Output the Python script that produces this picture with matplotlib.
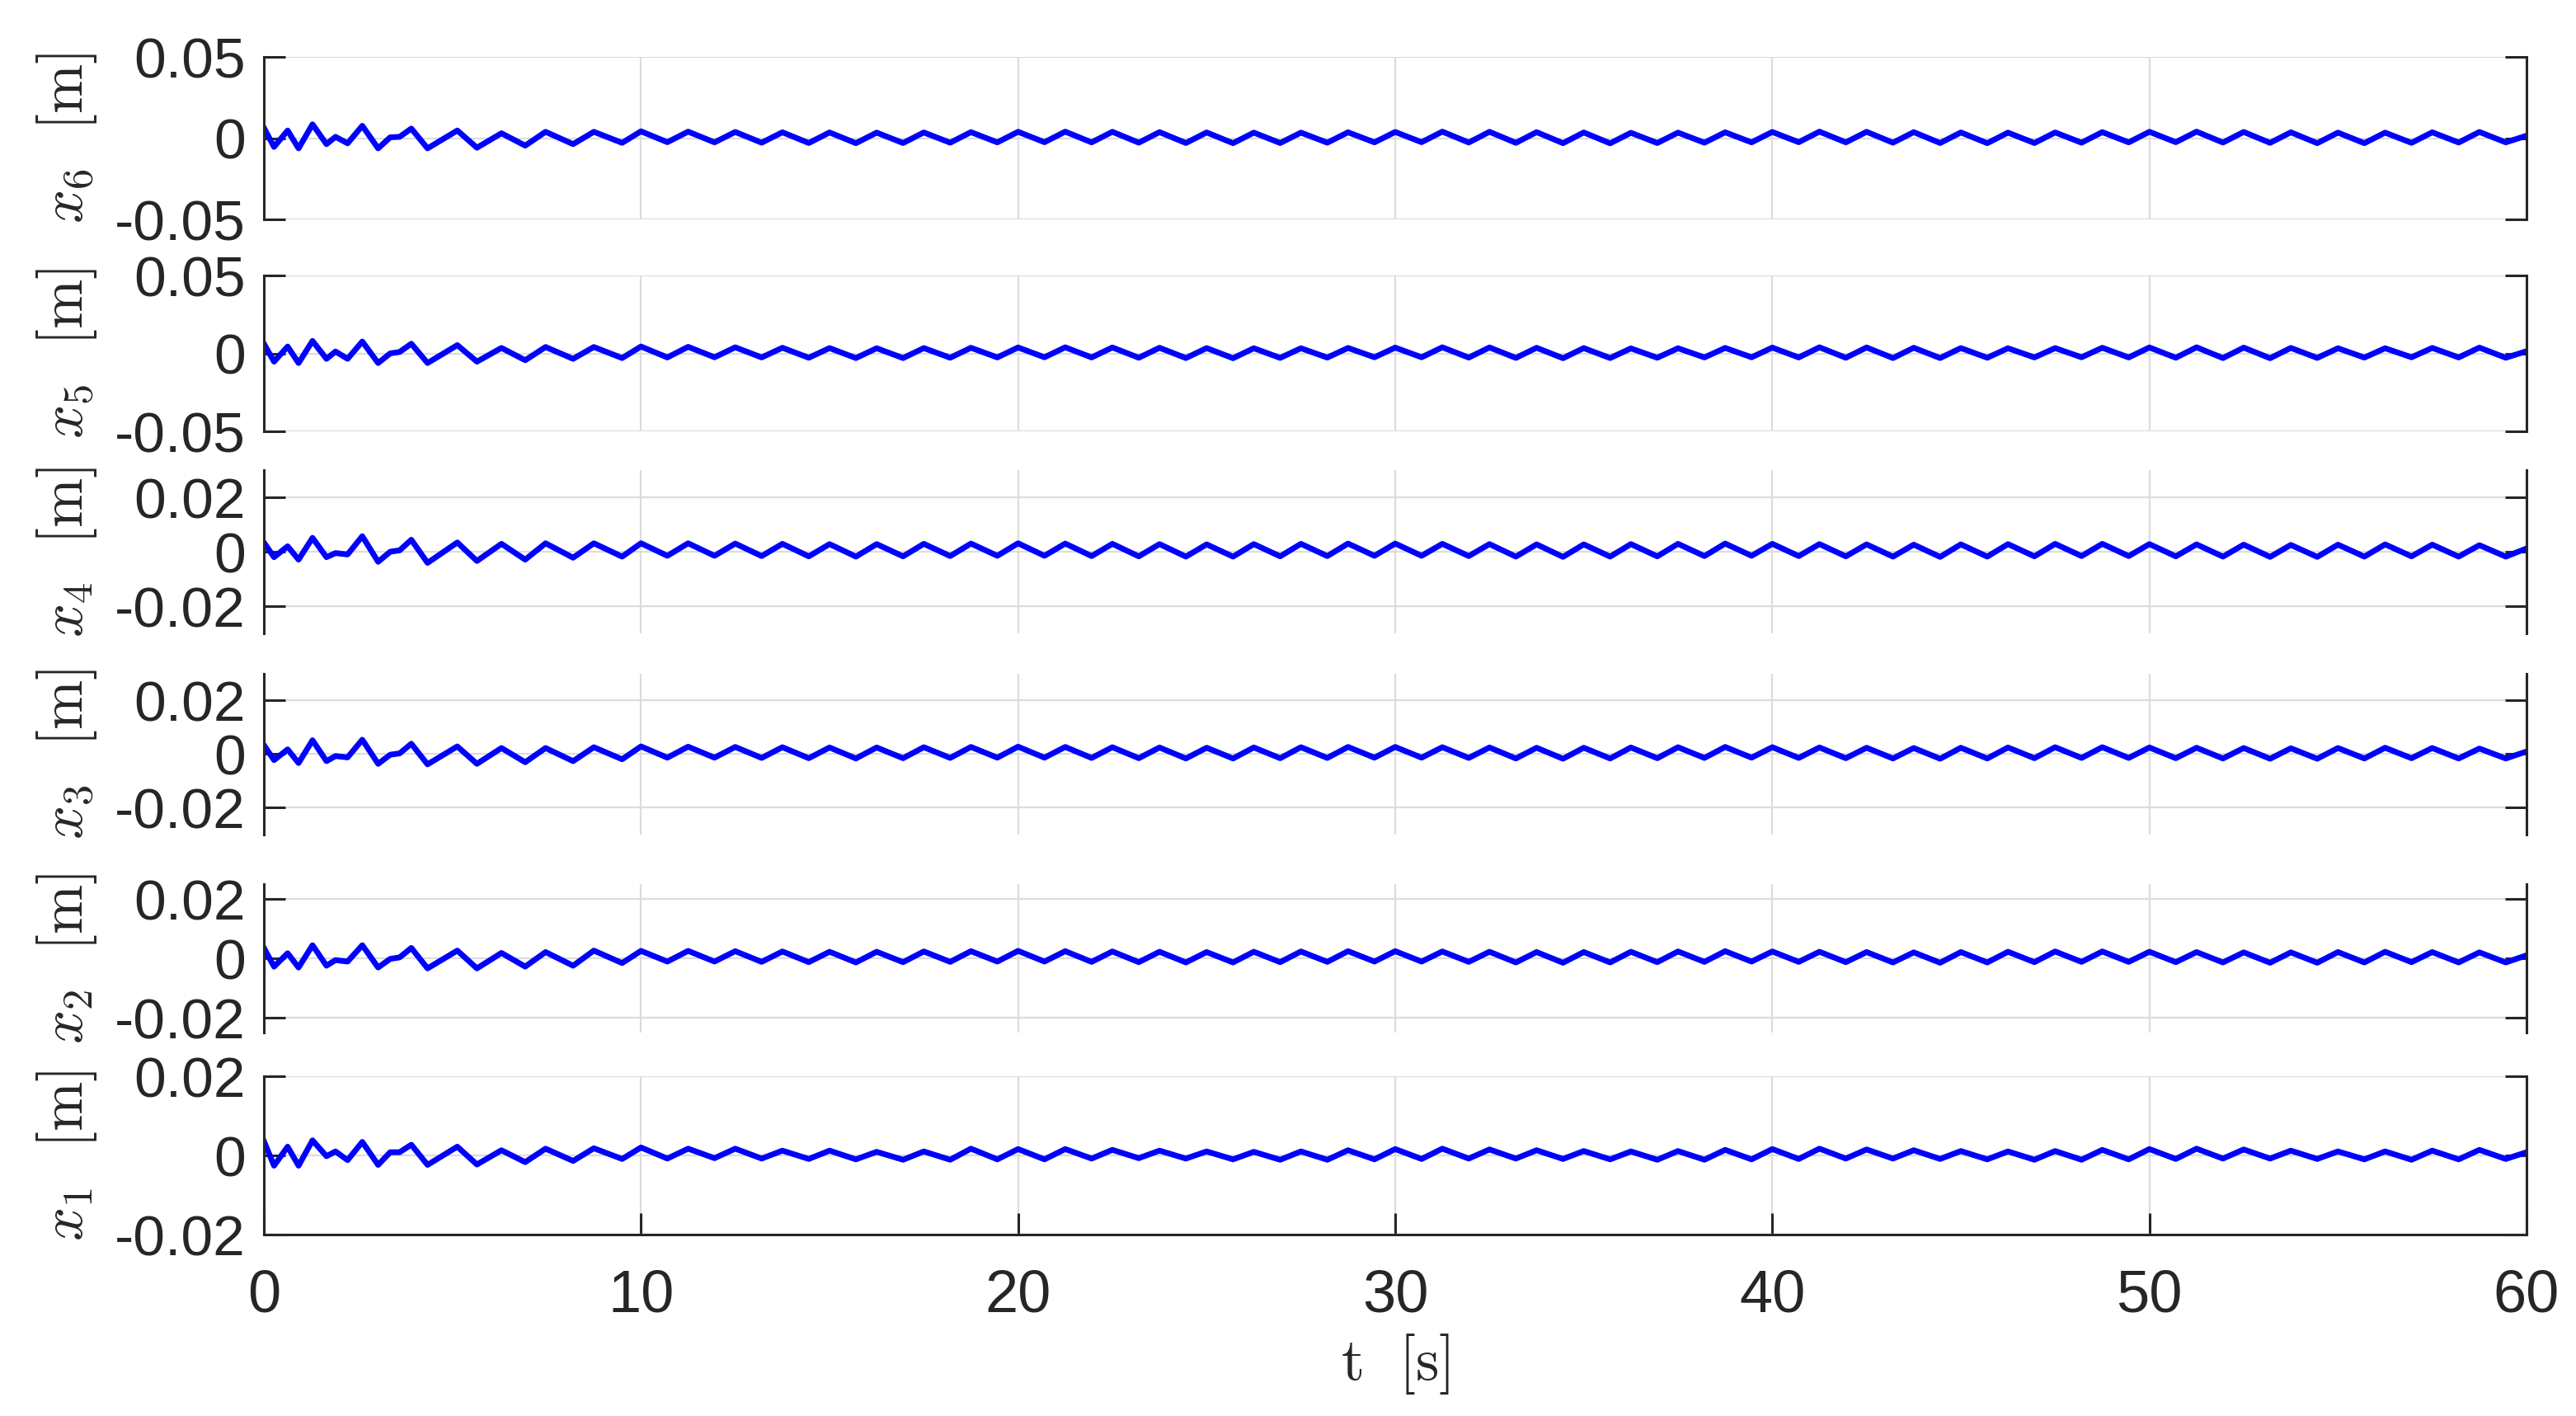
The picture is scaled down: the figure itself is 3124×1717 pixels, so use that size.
import numpy as np
import matplotlib
matplotlib.use('Agg')
import matplotlib.pyplot as plt
from matplotlib.ticker import FixedLocator, FixedFormatter

plt.rcParams['font.family'] = ['Liberation Sans', 'DejaVu Sans']
plt.rcParams['mathtext.fontset'] = 'cm'

# time of the extrema [s]
t_trans = [0, 0.27, 0.63, 0.92, 1.29, 1.66, 1.9, 2.22, 2.61, 3.03, 3.35, 3.6,
           3.91, 4.34, 5.13, 5.65, 6.3, 6.93, 7.47, 8.2, 8.75, 9.5]
t_peak = [10.0, 11.25, 12.5, 13.75, 15.0, 16.25, 17.5, 18.75, 20.0, 21.25,
          22.5, 23.75, 25.0, 26.25, 27.5, 28.75, 30.0, 31.25, 32.5, 33.75,
          35.0, 36.25, 37.5, 38.75, 40.0, 41.25, 42.5, 43.75, 45.0, 46.25,
          47.5, 48.75, 50.0, 51.25, 52.5, 53.75, 55.0, 56.25, 57.5, 58.75, 60.0]
t_trough = [10.7, 11.95, 13.2, 14.45, 15.7, 16.95, 18.2, 19.45, 20.7, 21.95,
            23.2, 24.45, 25.7, 26.95, 28.2, 29.45, 30.7, 31.95, 33.2, 34.45,
            35.7, 36.95, 38.2, 39.45, 40.7, 41.95, 43.2, 44.45, 45.7, 46.95,
            48.2, 49.45, 50.7, 51.95, 53.2, 54.45, 55.7, 56.95, 58.2, 59.45]

# values in mm
x6_trans = [6.4, -5.4, 4.7, -6.3, 8.5, -3.7, 0.8, -3.2, 7.6, -6.3, 0.5, 0.8,
            5.9, -6.3, 4.7, -5.9, 3.0, -4.6, 3.9, -3.7, 3.9, -2.9]
x6_peak = [4.2, 4.0, 3.8, 3.6, 3.5, 3.4, 3.5, 3.7, 3.9, 4.0, 3.9, 3.7, 3.5, 3.4,
           3.4, 3.6, 3.8, 4.0, 3.9, 3.7, 3.5, 3.3, 3.4, 3.6, 3.8, 4.0, 3.9, 3.7,
           3.5, 3.4, 3.5, 3.7, 3.9, 4.0, 3.8, 3.6, 3.4, 3.4, 3.6, 3.8, 1.5]
x6_trough = [-2.5, -2.6, -2.8, -3.0, -3.1, -3.0, -2.8, -2.6, -2.5, -2.6, -2.8,
             -3.0, -3.1, -3.0, -2.8, -2.6, -2.5, -2.7, -2.9, -3.1, -3.2, -3.0,
             -2.8, -2.6, -2.5, -2.6, -2.8, -3.0, -3.1, -3.0, -2.8, -2.6, -2.5,
             -2.7, -2.9, -3.1, -3.1, -2.9, -2.7, -2.6]

x5_trans = [6.2, -5.3, 4.4, -6.2, 8.0, -3.5, 1.2, -3.5, 7.6, -6.2, 0.0, 0.9,
            6.2, -6.2, 5.3, -5.3, 3.5, -4.4, 4.1, -3.5, 4.1, -3.0]
x5_peak = [4.4, 4.2, 3.9, 3.6, 3.4, 3.3, 3.4, 3.6, 3.8, 3.9, 3.8, 3.6, 3.4, 3.3,
           3.3, 3.5, 3.7, 3.9, 3.8, 3.6, 3.4, 3.2, 3.3, 3.5, 3.7, 3.9, 3.8, 3.6,
           3.4, 3.3, 3.4, 3.6, 3.8, 3.9, 3.7, 3.5, 3.3, 3.3, 3.5, 3.7, 1.4]
x5_trough = [-2.6, -2.5, -2.6, -2.8, -3.0, -3.0, -2.8, -2.6, -2.5, -2.6, -2.8,
             -3.0, -3.1, -2.9, -2.7, -2.5, -2.5, -2.7, -2.9, -3.1, -3.0, -2.8,
             -2.6, -2.5, -2.6, -2.8, -3.0, -3.0, -2.8, -2.6, -2.5, -2.6, -2.8,
             -3.0, -3.1, -2.9, -2.7, -2.5, -2.6, -2.8]

x4_trans = [3.4, -2.0, 2.0, -2.9, 5.1, -2.0, -0.5, -1.0, 5.7, -3.7, 0.0, 0.5,
            4.4, -4.1, 3.4, -3.4, 2.9, -2.9, 3.1, -2.2, 3.1, -1.8]
x4_peak = [3.1, 3.1, 3.0, 2.9, 2.8, 2.8, 2.9, 3.0, 3.1, 3.0, 2.9, 2.8, 2.7, 2.8,
           2.9, 3.0, 3.0, 2.9, 2.8, 2.7, 2.7, 2.8, 2.9, 3.0, 2.9, 2.8, 2.7, 2.6,
           2.7, 2.8, 2.9, 2.9, 2.8, 2.7, 2.6, 2.5, 2.6, 2.7, 2.6, 2.4, 1.2]
x4_trough = [-1.5, -1.5, -1.6, -1.7, -1.8, -1.7, -1.6, -1.5, -1.5, -1.6, -1.7,
             -1.8, -1.8, -1.7, -1.6, -1.5, -1.5, -1.6, -1.8, -1.9, -1.8, -1.7,
             -1.6, -1.5, -1.6, -1.7, -1.8, -1.9, -1.8, -1.7, -1.6, -1.6, -1.7,
             -1.8, -1.9, -1.9, -1.8, -1.7, -1.8, -1.8]

x3_trans = [3.4, -2.2, 1.8, -3.3, 5.2, -2.6, -0.7, -1.2, 5.4, -3.6, -0.2, 0.3,
            3.9, -3.8, 2.9, -3.6, 2.3, -3.0, 2.3, -2.6, 2.6, -1.9]
x3_peak = [2.9, 2.8, 2.7, 2.6, 2.5, 2.5, 2.6, 2.7, 2.8, 2.7, 2.6, 2.5, 2.4, 2.5,
           2.6, 2.7, 2.7, 2.6, 2.5, 2.4, 2.4, 2.5, 2.6, 2.7, 2.6, 2.5, 2.4, 2.3,
           2.4, 2.5, 2.6, 2.6, 2.5, 2.4, 2.3, 2.2, 2.3, 2.4, 2.3, 2.1, 1.0]
x3_trough = [-1.3, -1.3, -1.4, -1.5, -1.6, -1.5, -1.4, -1.3, -1.3, -1.4, -1.5,
             -1.6, -1.6, -1.5, -1.4, -1.3, -1.3, -1.4, -1.6, -1.7, -1.6, -1.5,
             -1.4, -1.3, -1.4, -1.5, -1.6, -1.7, -1.6, -1.5, -1.4, -1.4, -1.5,
             -1.6, -1.7, -1.7, -1.6, -1.5, -1.6, -1.6]

x2_trans = [3.5, -2.8, 1.7, -3.1, 4.4, -2.5, -0.6, -1.1, 4.4, -3.1, -0.2, 0.3,
            3.5, -3.4, 2.6, -3.4, 1.8, -2.8, 2.1, -2.5, 2.6, -1.6]
x2_peak = [2.5, 2.5, 2.4, 2.3, 2.2, 2.2, 2.3, 2.4, 2.5, 2.4, 2.3, 2.2, 2.1, 2.2,
           2.3, 2.4, 2.4, 2.3, 2.2, 2.1, 2.1, 2.2, 2.3, 2.4, 2.3, 2.2, 2.1, 2.0,
           2.1, 2.2, 2.3, 2.3, 2.2, 2.1, 2.0, 2.0, 2.1, 2.2, 2.1, 2.0, 1.0]
x2_trough = [-1.1, -1.1, -1.2, -1.3, -1.4, -1.3, -1.2, -1.1, -1.1, -1.2, -1.3,
             -1.4, -1.4, -1.3, -1.2, -1.1, -1.1, -1.2, -1.4, -1.5, -1.4, -1.3,
             -1.2, -1.1, -1.2, -1.3, -1.4, -1.5, -1.4, -1.3, -1.2, -1.2, -1.3,
             -1.4, -1.5, -1.5, -1.4, -1.3, -1.4, -1.4]

x1_trans = [3.6, -2.6, 2.2, -2.6, 3.8, -0.2, 1.0, -1.2, 3.4, -2.4, 0.8, 0.8,
            2.7, -2.4, 2.2, -2.3, 1.3, -1.7, 1.7, -1.4, 1.8, -0.9]
x1_peak = [2.0, 1.7, 1.7, 1.2, 1.2, 0.9, 1.0, 1.7, 1.6, 1.6, 1.4, 1.2, 1.0, 0.9,
           1.0, 1.3, 1.6, 1.7, 1.5, 1.3, 1.1, 1.0, 1.1, 1.4, 1.6, 1.7, 1.5, 1.3,
           1.1, 1.0, 1.1, 1.4, 1.6, 1.7, 1.5, 1.2, 1.0, 1.0, 1.2, 1.4, 0.8]
x1_trough = [-0.8, -0.7, -0.8, -0.9, -1.0, -1.1, -1.1, -1.0, -1.0, -0.8, -0.7,
             -0.8, -1.0, -1.1, -1.1, -1.0, -0.9, -0.8, -0.8, -0.9, -1.0, -1.1,
             -1.1, -1.0, -0.9, -0.8, -0.8, -0.9, -1.0, -1.1, -1.1, -1.0, -0.9,
             -0.8, -0.8, -0.9, -1.0, -1.1, -1.0, -0.9]

ylabels = [r'$x_6\ \ [\mathrm{m}]$', r'$x_5\ \ [\mathrm{m}]$', r'$x_4\ \ [\mathrm{m}]$',
           r'$x_3\ \ [\mathrm{m}]$', r'$x_2\ \ [\mathrm{m}]$', r'$x_1\ \ [\mathrm{m}]$']
ylims = [0.05, 0.05, 0.03, 0.03, 0.025, 0.02]
yticks = [[-0.05, 0, 0.05], [-0.05, 0, 0.05], [-0.02, 0, 0.02],
          [-0.02, 0, 0.02], [-0.02, 0, 0.02], [-0.02, 0, 0.02]]
yticklabels = [['-0.05', '0', '0.05'], ['-0.05', '0', '0.05'], ['-0.02', '0', '0.02'],
               ['-0.02', '0', '0.02'], ['-0.02', '0', '0.02'], ['-0.02', '0', '0.02']]
xticks = [0, 10, 20, 30, 40, 50, 60]


def build(trans, peaks, troughs):
    t = list(t_trans)
    v = list(trans)
    for tp, p, tq, q in zip(t_peak[:-1], peaks[:-1], t_trough, troughs):
        t += [tp, tq]
        v += [p, q]
    t.append(t_peak[-1])
    v.append(peaks[-1])
    return np.array(t), np.array(v) * 1e-3  # mm -> m


series = [build(x6_trans, x6_peak, x6_trough), build(x5_trans, x5_peak, x5_trough),
          build(x4_trans, x4_peak, x4_trough), build(x3_trans, x3_peak, x3_trough),
          build(x2_trans, x2_peak, x2_trough), build(x1_trans, x1_peak, x1_trough)]

# axes boxes in pixels (top, bottom) of the 3124x1717 figure
W, H = 3124, 1717
left, right = 320, 3064
boxes = [(69, 266), (334, 523), (570, 768), (817, 1012), (1072, 1252), (1305, 1497)]

fig = plt.figure(figsize=(W / 100, H / 100), dpi=100)
dark = '#262626'
for i, ((top, bot), (t, v)) in enumerate(zip(boxes, series)):
    ax = fig.add_axes([left / W, 1 - bot / H, (right - left) / W, (bot - top) / H])
    ax.plot(t, v, color=(0, 0, 1), lw=5.0, solid_joinstyle='round')
    ax.set_xlim(0, 60)
    ax.set_ylim(-ylims[i], ylims[i])
    ax.yaxis.set_major_locator(FixedLocator(yticks[i]))
    ax.yaxis.set_major_formatter(FixedFormatter(yticklabels[i]))
    ax.xaxis.set_major_locator(FixedLocator(xticks))
    ax.grid(True, color='#dcdcdc', lw=1.6)
    ax.set_axisbelow(True)
    ax.spines['top'].set_visible(False)
    for s in ['left', 'right', 'bottom']:
        ax.spines[s].set_color(dark)
        ax.spines[s].set_linewidth(2.2)
    ax.tick_params(axis='y', direction='in', left=True, right=True, length=19,
                   width=2.2, color=dark, labelsize=50, labelcolor=dark, pad=16)
    last = i == len(series) - 1
    if last:
        ax.tick_params(axis='x', direction='in', bottom=True, top=False, length=19,
                       width=2.2, color=dark, labelsize=52, labelcolor=dark, pad=30)
        ax.set_xlabel(r'$\mathrm{t}\ \ [\mathrm{s}]$', fontsize=52, color=dark)
        ax.xaxis.set_label_coords(0.5, -0.82)
        ax.xaxis.label.set_va('center')
    else:
        ax.spines['bottom'].set_visible(False)
        ax.tick_params(axis='x', bottom=False, labelbottom=False, length=0)
    ax.set_ylabel(ylabels[i], fontsize=52, color=dark)
    ax.yaxis.set_label_coords(-0.087, 0.5)
    ax.yaxis.label.set_va('center')

fig.savefig('out.png', dpi=100, facecolor='white')
